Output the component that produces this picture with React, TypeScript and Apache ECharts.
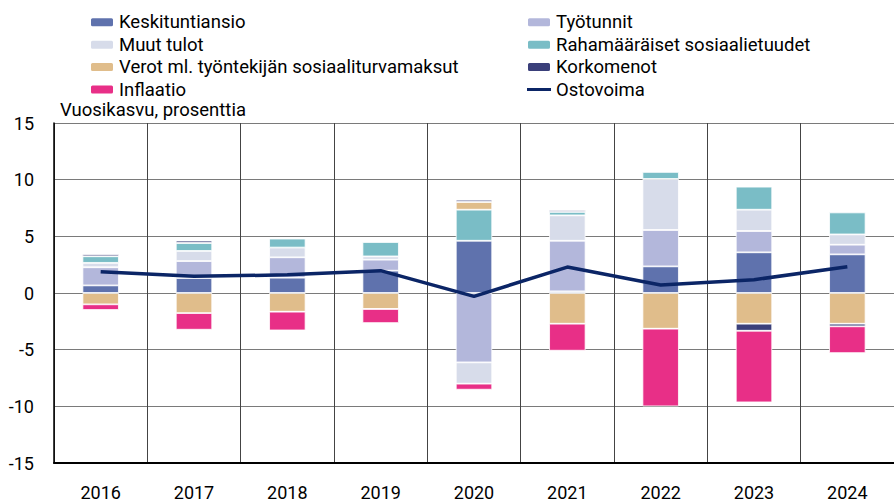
import React, { useEffect, useRef } from "react";
import * as echarts from "echarts";

const categories = ["2016", "2017", "2018", "2019", "2020", "2021", "2022", "2023", "2024"];
const keskituntiansio = [0.67, 1.32, 1.35, 1.97, 4.61, 0.15, 2.35, 3.59, 3.41];
const tyotunnit = [1.6, 1.5, 1.8, 0.97, -6.12, 4.46, 3.21, 1.88, 0.85];
const muutTulot = [0.39, 0.89, 0.86, 0.29, -1.88, 2.24, 4.5, 1.88, 0.91];
const rahamaaraiset = [0.58, 0.7, 0.79, 1.27, 2.74, 0.3, 0.62, 2.03, 1.94];
const verot = [-1.0, -1.77, -1.65, -1.41, 0.68, -2.71, -3.15, -2.71, -2.71];
const korkomenot = [0.17, 0.21, 0, 0, 0.2, 0.17, 0, -0.62, -0.23];
const inflaatio = [-0.5, -1.47, -1.65, -1.24, -0.53, -2.38, -6.85, -6.32, -2.36];
const ostovoima = [1.88, 1.47, 1.6, 1.97, -0.3, 2.29, 0.7, 1.17, 2.32];

const FONT = "Roboto";
const LINE_ICON = "path://M0,0 L0,0 M0,10 L0,10 M0,3.5 L24,3.5 L24,6.5 L0,6.5 Z";

export default function App() {
  const ref = useRef<HTMLDivElement>(null);
  useEffect(() => {
    const chart = echarts.init(ref.current!, null, { renderer: "svg" });
    const bar = (name: string, data: number[], color: string) => ({
      name,
      type: "bar",
      stack: "total",
      data,
      barWidth: "39%",
      itemStyle: { color, borderColor: "#ffffff", borderWidth: 0.8 },
    });
    const legendBase = {
      orient: "vertical",
      top: 12.8,
      padding: 0,
      itemWidth: 24,
      itemHeight: 10,
      itemGap: 3.4,
      itemTextGap: 4,
      textStyle: { fontFamily: FONT, fontSize: 18.5, color: "#000" },
    };
    chart.setOption({
      animation: false,
      textStyle: { fontFamily: FONT },
      legend: [
        {
          ...legendBase,
          left: 89,
          data: ["Keskituntiansio", "Muut tulot", "Verot ml. työntekijän sosiaaliturvamaksut", "Inflaatio"],
        },
        {
          ...legendBase,
          left: 526,
          data: [
            "Työtunnit",
            "Rahamääräiset sosiaalietuudet",
            "Korkomenot",
            { name: "Ostovoima", icon: LINE_ICON, itemStyle: { color: "#0b2566" } },
          ],
        },
      ],
      graphic: [
        {
          type: "text",
          left: 60,
          top: 100,
          style: { text: "Vuosikasvu, prosenttia", fontFamily: FONT, fontSize: 18.5, fill: "#000" },
        },
      ],
      grid: { left: 54, right: -10.5, top: 123, bottom: 38, containLabel: false },
      xAxis: {
        type: "category",
        data: categories,
        axisLine: { onZero: false, lineStyle: { color: "#000", width: 2 } },
        axisTick: { show: false },
        axisLabel: { color: "#000", fontSize: 18, fontFamily: FONT, margin: 20 },
        splitLine: { show: true, lineStyle: { color: "#444", width: 1 } },
      },
      yAxis: {
        type: "value",
        min: -15,
        max: 15,
        interval: 5,
        axisLine: { show: true, lineStyle: { color: "#000", width: 1.5 } },
        axisTick: { show: false },
        axisLabel: { color: "#000", fontSize: 18, fontFamily: FONT, margin: 20 },
        splitLine: { show: true, lineStyle: { color: "#7a7a7a", width: 1 } },
      },
      series: [
        bar("Keskituntiansio", keskituntiansio, "#5f72ad"),
        bar("Työtunnit", tyotunnit, "#b3b7db"),
        bar("Muut tulot", muutTulot, "#d7dcea"),
        bar("Rahamääräiset sosiaalietuudet", rahamaaraiset, "#7abdc6"),
        bar("Verot ml. työntekijän sosiaaliturvamaksut", verot, "#e0bd8b"),
        bar("Korkomenot", korkomenot, "#3a3f7a"),
        bar("Inflaatio", inflaatio, "#e82f87"),
        {
          name: "Ostovoima",
          type: "line",
          data: ostovoima,
          symbol: "none",
          z: 5,
          lineStyle: { color: "#0b2566", width: 3.5 },
          itemStyle: { color: "#0b2566" },
        },
      ],
    });
    return () => chart.dispose();
  }, []);
  return <div ref={ref} style={{ width: 894, height: 501, position: "absolute", left: 0, top: 0 }} />;
}
